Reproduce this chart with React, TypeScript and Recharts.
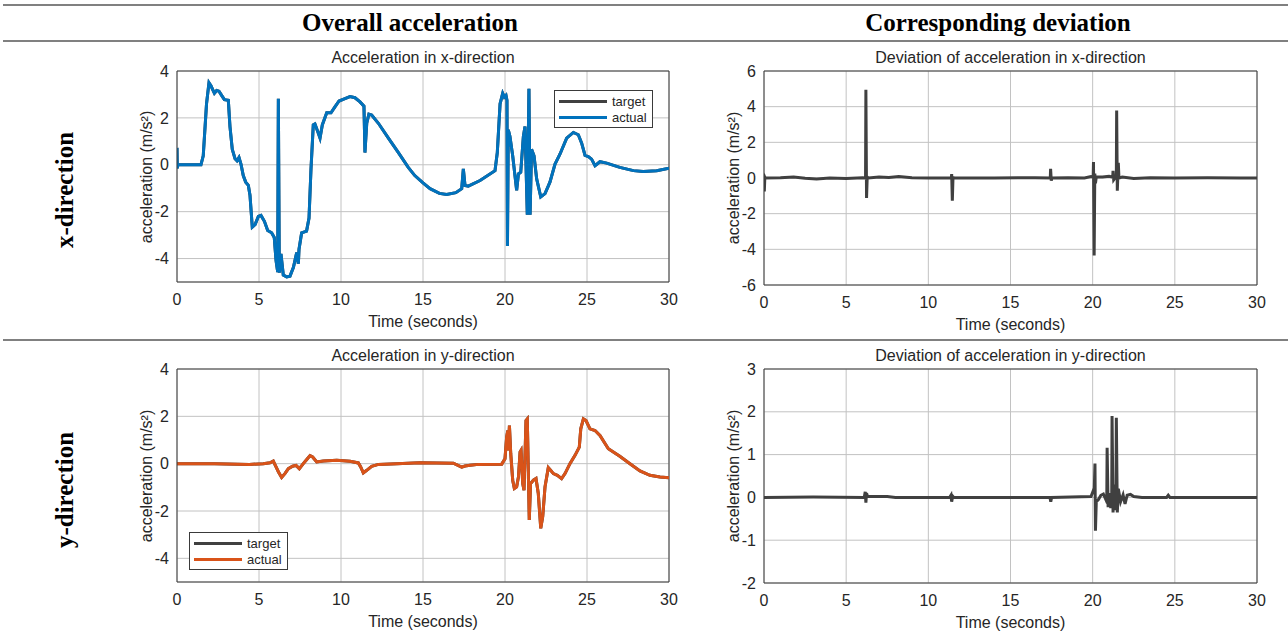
import React from 'react'
import { LineChart, Line, XAxis, YAxis, CartesianGrid, ReferenceLine, Legend } from 'recharts'

const timeTicks = [0, 5, 10, 15, 20, 25, 30]
const accTicks = [-4, -2, 0, 2, 4]
const devXTicks = [-6, -4, -2, 0, 2, 4, 6]
const devYTicks = [-2, -1, 0, 1, 2, 3]

// [time (s), acceleration (m/s²)]
const accXActual: [number, number][] = [
  [0, 0.72], [0.02, -0.15], [0.05, 0], [1.46, 0], [1.6, 0.38], [1.8, 2.6], [1.95, 3.5], [2.07, 3.37],
  [2.28, 3.05], [2.42, 3.17], [2.56, 3.14], [2.72, 2.96], [2.89, 2.78], [3.13, 2.75], [3.23, 1.63],
  [3.37, 0.66], [3.54, 0.26], [3.66, 0.17], [3.78, 0.31], [3.9, 0.03], [4.04, -0.46], [4.19, -0.74],
  [4.35, -0.88], [4.45, -1.3], [4.59, -2.66], [4.76, -2.55], [4.96, -2.2], [5.12, -2.16], [5.33, -2.41],
  [5.53, -2.8], [5.77, -2.9], [5.93, -3.1], [6.04, -4.09], [6.14, -4.57], [6.18, 2.82], [6.24, -4.6],
  [6.34, -3.8], [6.48, -4.7], [6.69, -4.78], [6.89, -4.75], [7.1, -4.37], [7.3, -3.74], [7.4, -4.22],
  [7.44, -3.6], [7.6, -2.9], [7.9, -2.83], [8.05, -2.27], [8.17, -0.18], [8.31, 1.7], [8.41, 1.74],
  [8.58, 1.42], [8.72, 1.14], [8.86, 1.7], [9.13, 2.22], [9.39, 2.22], [9.63, 2.47], [9.88, 2.72],
  [10.24, 2.82], [10.55, 2.91], [10.85, 2.86], [11.16, 2.68], [11.4, 2.5], [11.46, 0.52], [11.57, 1.77],
  [11.7, 2.16], [11.87, 2.12], [12.28, 1.77], [12.89, 1.14], [13.5, 0.52], [14.1, -0.11], [14.5, -0.46],
  [15.0, -0.77], [15.43, -1.02], [16.0, -1.22], [16.44, -1.27], [17.0, -1.19], [17.36, -1.02],
  [17.46, -0.18], [17.56, -0.88], [17.76, -0.91], [18.48, -0.67], [19.39, -0.25], [19.53, 0.52],
  [19.7, 2.6], [19.86, 3.05], [19.96, 2.89], [20.06, 2.96], [20.12, 2.75], [20.15, -3.46], [20.2, 1.49],
  [20.3, 1.21], [20.47, 0.38], [20.71, -1.09], [20.82, -0.39], [20.96, -0.32], [21.12, 1.21],
  [21.22, 1.63], [21.36, -2.13], [21.46, 3.24], [21.53, -2.13], [21.62, 0.66], [21.77, 0.38],
  [21.93, -0.6], [22.18, -1.37], [22.44, -1.23], [22.74, -0.74], [23.05, 0.03], [23.35, 0.45],
  [23.76, 1.14], [24.17, 1.38], [24.47, 1.28], [24.67, 0.93], [24.88, 0.4], [25.08, 0.35], [25.28, 0.24],
  [25.49, -0.04], [25.79, 0.13], [26.2, 0.07], [27.0, -0.11], [27.83, -0.25], [28.43, -0.29],
  [29.25, -0.25], [30, -0.15],
]

const accYActual: [number, number][] = [
  [0, 0], [2.3, 0], [4.4, -0.03], [5.26, 0], [5.67, 0.04], [5.87, 0.11], [6.04, -0.14], [6.18, -0.34],
  [6.38, -0.58], [6.59, -0.41], [6.79, -0.21], [7.05, -0.11], [7.26, -0.07], [7.46, -0.21], [7.7, 0],
  [7.95, 0.21], [8.11, 0.34], [8.27, 0.28], [8.52, 0.07], [8.92, 0.11], [9.74, 0.14], [10.55, 0.1],
  [11.06, 0.03], [11.2, -0.14], [11.36, -0.39], [11.57, -0.28], [11.87, -0.11], [12.28, -0.03],
  [13.4, 0], [14.8, 0.04], [16.85, 0.02], [17.36, -0.15], [17.56, -0.1], [17.87, -0.07], [18.38, -0.03],
  [19.8, -0.02], [20.0, 0.21], [20.1, 1.12], [20.17, 1.4], [20.2, 0.56], [20.27, 1.61], [20.35, 0.42],
  [20.47, -0.7], [20.57, -1.05], [20.71, -0.98], [20.82, -0.56], [20.92, 0.49], [20.98, 0.56],
  [21.08, -0.84], [21.16, -1.12], [21.28, 1.82], [21.36, 1.89], [21.48, -2.38], [21.56, -0.84],
  [21.73, -0.7], [21.89, -0.63], [22.03, -1.26], [22.18, -2.73], [22.3, -2.24], [22.44, -0.98],
  [22.64, -0.17], [22.78, -0.28], [22.95, -0.42], [23.19, -0.49], [23.45, -0.63], [23.66, -0.42],
  [23.96, 0], [24.27, 0.35], [24.53, 0.7], [24.62, 1.47], [24.78, 1.89], [24.94, 1.82], [25.18, 1.47],
  [25.49, 1.4], [25.79, 1.19], [26.3, 0.63], [27.0, 0.31], [27.62, 0], [28.23, -0.31], [28.84, -0.49],
  [29.45, -0.56], [30, -0.59],
]

// deviation = actual - target
const devX: [number, number][] = [
  [0, 0.2], [0.02, -0.75], [0.05, 0.05], [0.08, 0], [1.0, 0.02], [1.8, 0.06], [2.5, -0.02], [3.2, -0.05],
  [4.0, 0], [5.0, -0.03], [6.0, 0.02], [6.18, 0], [6.2, 4.95], [6.24, -1.12], [6.28, 0.05], [6.35, 0],
  [7.0, 0.05], [7.6, 0.03], [8.2, 0.08], [9.0, 0.02], [10.0, 0], [11.0, 0], [11.4, 0], [11.42, 0.22],
  [11.46, -1.27], [11.5, 0.02], [11.6, 0], [14.0, 0], [16.5, 0.02], [17.42, 0], [17.44, 0.52],
  [17.48, -0.15], [17.52, 0], [18.5, 0.02], [19.5, 0], [19.9, 0.08], [20.03, 0.05], [20.05, 0.9],
  [20.09, -4.35], [20.13, 0.25], [20.17, -0.3], [20.22, 0.05], [20.6, 0.05], [21.0, 0.1], [21.22, 0.05],
  [21.24, 0.4], [21.28, -0.1], [21.44, 0.1], [21.46, 3.78], [21.5, -0.71], [21.56, 0.85], [21.6, 0],
  [21.8, 0.05], [22.5, -0.03], [23.5, 0.02], [25, 0], [27, 0.02], [29, 0], [30, 0],
]

const devY: [number, number][] = [
  [0, 0], [3, 0.01], [6.1, 0], [6.16, 0.13], [6.2, -0.12], [6.24, 0.1], [6.3, 0.02], [7.5, 0.02], [8.0, 0],
  [11.3, 0], [11.38, 0.05], [11.42, -0.1], [11.48, 0.03], [11.55, 0], [17.4, 0], [17.45, -0.1], [17.5, 0],
  [19.9, 0.02], [20.1, 0.22], [20.14, 0.79], [20.17, -0.78], [20.22, -0.1], [20.35, -0.05], [20.5, 0.05],
  [20.65, 0.08], [20.8, -0.05], [20.86, 0.05], [20.88, 1.16], [20.94, -0.23], [21.0, 0.1], [21.1, -0.25],
  [21.16, 0.05], [21.18, 1.9], [21.24, -0.35], [21.3, 0.3], [21.36, -0.3], [21.42, 0.1], [21.44, 1.86],
  [21.5, -0.35], [21.56, 0.2], [21.7, -0.1], [21.85, 0.06], [21.97, -0.15], [22.1, 0.05], [22.3, 0.07],
  [22.5, 0.02], [23, 0], [24.5, 0], [24.6, 0.05], [24.7, 0], [27, 0], [30, 0],
]

const SANS = '"Liberation Sans", Arial, sans-serif'
const SERIF = '"Liberation Serif", "Times New Roman", serif'
const AXIS = '#3a3a3a'
const GRID = '#c2c2c2'

const accRows = (pts: [number, number][]) => pts.map(([t, v]) => ({ t, target: v, actual: v }))
const devRows = (pts: [number, number][]) => pts.map(([t, v]) => ({ t, dev: v }))

const legendOrder = ['target', 'actual']

function LegendBox(props: any) {
  const items = [...(props.payload || [])].sort(
    (a: any, b: any) => legendOrder.indexOf(a.value) - legendOrder.indexOf(b.value)
  )
  return (
    <div style={{ border: `1px solid ${AXIS}`, background: '#fff', padding: '2px 5px 2px 4px', fontFamily: SANS, fontSize: 13, color: '#262626' }}>
      {items.map((it: any) => (
        <div key={it.value} style={{ display: 'flex', alignItems: 'center', height: 16 }}>
          <span style={{ display: 'inline-block', width: 48, height: 3, background: it.color, marginRight: 5 }} />
          <span>{it.value}</span>
        </div>
      ))}
    </div>
  )
}

interface PanelProps {
  x: number
  y: number
  w: number
  h: number
  title: string
  data: any[]
  yDomain: [number, number]
  yTicks: number[]
  lines: { key: string; name: string; color: string }[]
  legend?: { left: number; top: number }
}

function Panel({ x, y, w, h, title, data, yDomain, yTicks, lines, legend }: PanelProps) {
  const text = { position: 'absolute' as const, fontFamily: SANS, color: '#262626', whiteSpace: 'nowrap' as const }
  return (
    <>
      <div style={{ ...text, left: x, top: y - 22, width: w, textAlign: 'center', fontSize: 16, lineHeight: '18px' }}>{title}</div>
      <div style={{ ...text, left: x, top: y + h + 30, width: w, textAlign: 'center', fontSize: 16, lineHeight: '20px' }}>Time (seconds)</div>
      <div style={{ ...text, left: x - 30, top: y + h / 2, fontSize: 16, transform: 'translate(-50%, -50%) rotate(-90deg)' }}>
        acceleration (m/s²)
      </div>
      <div style={{ position: 'absolute', left: x - 60, top: y - 20 }}>
        <LineChart width={w + 70} height={h + 70} data={data} margin={{ top: 20, right: 10, bottom: 20, left: 20 }}>
          <CartesianGrid stroke={GRID} />
          <XAxis
            type="number"
            dataKey="t"
            domain={[0, 30]}
            ticks={timeTicks}
            height={30}
            tickLine={false}
            tickMargin={6}
            axisLine={{ stroke: AXIS }}
            tick={{ fill: '#262626', fontSize: 16, fontFamily: SANS }}
            allowDataOverflow
          />
          <YAxis
            type="number"
            domain={yDomain}
            ticks={yTicks}
            width={40}
            tickLine={false}
            axisLine={{ stroke: AXIS }}
            tick={{ fill: '#262626', fontSize: 16, fontFamily: SANS }}
            allowDataOverflow
          />
          <ReferenceLine y={yDomain[1]} stroke={AXIS} />
          <ReferenceLine x={30} stroke={AXIS} />
          {lines.map((l) => (
            <Line
              key={l.key}
              type="linear"
              dataKey={l.key}
              name={l.name}
              stroke={l.color}
              strokeWidth={3}
              dot={false}
              isAnimationActive={false}
            />
          ))}
          {legend && (
            <Legend
              layout="vertical"
              align="center"
              verticalAlign="middle"
              content={LegendBox}
              wrapperStyle={{ left: legend.left - (x - 60), top: legend.top - (y - 20), width: 'auto' }}
            />
          )}
        </LineChart>
      </div>
    </>
  )
}

const rule = (top: number) => (
  <div style={{ position: 'absolute', left: 3, top, width: 1285, height: 2, background: '#808080' }} />
)

export default function App() {
  const head = { position: 'absolute' as const, fontFamily: SERIF, fontWeight: 700, fontSize: 25, color: '#000', whiteSpace: 'nowrap' as const }
  return (
    <div style={{ position: 'absolute', left: 0, top: 0, width: 1288, height: 639, background: '#fff', overflow: 'hidden' }}>
      {rule(4)}
      {rule(40)}
      {rule(339)}
      <div style={{ ...head, left: 410, top: 23, transform: 'translate(-50%, -50%)' }}>Overall acceleration</div>
      <div style={{ ...head, left: 998, top: 23, transform: 'translate(-50%, -50%)' }}>Corresponding deviation</div>
      <div style={{ ...head, left: 65, top: 190, transform: 'translate(-50%, -50%) rotate(-90deg)' }}>x-direction</div>
      <div style={{ ...head, left: 65, top: 490, transform: 'translate(-50%, -50%) rotate(-90deg)' }}>y-direction</div>

      <Panel
        x={177} y={71} w={492} h={211}
        title="Acceleration in x-direction"
        data={accRows(accXActual)}
        yDomain={[-5, 4]} yTicks={accTicks}
        lines={[{ key: 'target', name: 'target', color: '#404040' }, { key: 'actual', name: 'actual', color: '#0072BD' }]}
        legend={{ left: 554, top: 90 }}
      />
      <Panel
        x={764} y={71} w={493} h={214}
        title="Deviation of acceleration in x-direction"
        data={devRows(devX)}
        yDomain={[-6, 6]} yTicks={devXTicks}
        lines={[{ key: 'dev', name: 'deviation', color: '#404040' }]}
      />
      <Panel
        x={177} y={369} w={492} h={213}
        title="Acceleration in y-direction"
        data={accRows(accYActual)}
        yDomain={[-5, 4]} yTicks={accTicks}
        lines={[{ key: 'target', name: 'target', color: '#404040' }, { key: 'actual', name: 'actual', color: '#D95319' }]}
        legend={{ left: 189, top: 532 }}
      />
      <Panel
        x={764} y={369} w={493} h={214}
        title="Deviation of acceleration in y-direction"
        data={devRows(devY)}
        yDomain={[-2, 3]} yTicks={devYTicks}
        lines={[{ key: 'dev', name: 'deviation', color: '#404040' }]}
      />
    </div>
  )
}
